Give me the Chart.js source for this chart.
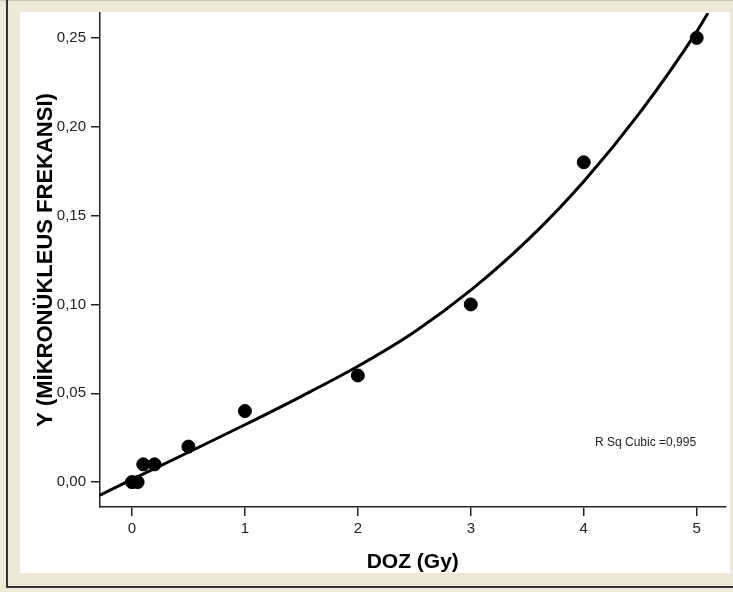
<!DOCTYPE html>
<html>
<head>
<meta charset="utf-8">
<script src="https://cdn.jsdelivr.net/npm/chart.js@4.4.1/dist/chart.umd.min.js"></script>
<style>
  html, body { margin: 0; padding: 0; background: #ECE9D8; }
  canvas { display: block; }
</style>
</head>
<body>
<canvas id="doz_chart" width="733" height="592"></canvas>
<script>
// observed points
const dozValues = [0, 0.05, 0.1, 0.2, 0.5, 1, 2, 3, 4, 5];
const frekansValues = [0, 0, 0.01, 0.01, 0.02, 0.04, 0.06, 0.10, 0.18, 0.25];

// cubic fit line
const fitDoz = [-0.283, 0, 0.5, 1, 1.5, 2, 2.5, 3, 3.5, 4, 4.5, 5, 5.1];
const fitFrekans = [-0.0073, 0.0015, 0.0168, 0.0323, 0.0483, 0.0652, 0.0845, 0.1080, 0.1360, 0.1692, 0.2082, 0.2535, 0.2640];

// ticks
const xTickValues = [0, 1, 2, 3, 4, 5];
const yTickValues = [0, 0.05, 0.10, 0.15, 0.20, 0.25];
const yTickLabels = ['0,00', '0,05', '0,10', '0,15', '0,20', '0,25'];

const rSqText = 'R Sq Cubic =0,995';

/*** FRAME + ANNOTATION ***/
const framePlugin = {
    id: 'frame',
    beforeDraw(chart) {
        const ctx = chart.ctx;
        ctx.save();
        ctx.fillStyle = '#ECE9D8';
        ctx.fillRect(0, 0, chart.width, chart.height);
        ctx.fillStyle = '#FFFFFF';
        ctx.fillRect(20, 12, 710, 561);
        ctx.strokeStyle = '#C8C5B4';
        ctx.lineWidth = 1;
        ctx.beginPath();
        ctx.moveTo(0, 0.5); ctx.lineTo(chart.width, 0.5);
        ctx.stroke();
        ctx.strokeStyle = '#333333';
        ctx.lineWidth = 2;
        ctx.beginPath();
        ctx.moveTo(7, 0); ctx.lineTo(7, 587);
        ctx.lineTo(chart.width, 587);
        ctx.stroke();
        ctx.restore();
    },
    afterDraw(chart) {
        const ctx = chart.ctx;
        ctx.save();
        ctx.font = '12px "Liberation Sans", Arial, sans-serif';
        ctx.fillStyle = '#222222';
        ctx.textAlign = 'left';
        ctx.textBaseline = 'middle';
        ctx.fillText(rSqText, 595, 443);
        ctx.restore();
    }
};

let ctx = document.getElementById('doz_chart').getContext('2d');

new Chart(ctx, {
    type: 'scatter',
    data: {
        datasets: [{
            label: 'Cubic',
            type: 'line',
            data: fitDoz.map((x, i) => ({x: x, y: fitFrekans[i]})),
            borderColor: '#000000',
            borderWidth: 3,
            pointRadius: 0,
            fill: false,
            cubicInterpolationMode: 'monotone'
        }, {
            label: 'Observed',
            data: dozValues.map((x, i) => ({x: x, y: frekansValues[i]})),
            backgroundColor: '#000000',
            borderColor: '#000000',
            pointRadius: 6.5,
            pointHoverRadius: 6.5
        }]
    },
    options: {
        responsive: false,
        animation: false,
        layout: {
            padding: {left: 0, top: 13, right: 5, bottom: 0}
        },
        plugins: {
            legend: {display: false},
            tooltip: {enabled: false}
        },
        scales: {
            x: {
                type: 'linear',
                min: -0.283,
                max: 5.255,
                afterBuildTicks: s => { s.ticks = xTickValues.map(v => ({value: v})); },
                afterFit: s => { s.height = 85; s.paddingLeft = 0; s.paddingRight = 0; },
                grid: {drawOnChartArea: false, drawTicks: true, tickLength: 9, color: '#222222', lineWidth: 1.5},
                border: {display: true, color: '#222222', width: 1.5},
                ticks: {
                    padding: 4,
                    color: '#222222',
                    font: {family: '"Liberation Sans", Arial, sans-serif', size: 15},
                    callback: v => String(v)
                },
                title: {
                    display: true,
                    text: 'DOZ (Gy)',
                    color: '#000000',
                    font: {family: '"Liberation Sans", Arial, sans-serif', size: 21, weight: 'bold', lineHeight: 1},
                    padding: {top: 0, bottom: 19}
                }
            },
            y: {
                type: 'linear',
                min: -0.014,
                max: 0.264,
                afterBuildTicks: s => { s.ticks = yTickValues.map(v => ({value: v})); },
                afterFit: s => { s.width = 100; s.paddingTop = 0; s.paddingBottom = 0; },
                grid: {drawOnChartArea: false, drawTicks: true, tickLength: 9, color: '#222222', lineWidth: 1.5},
                border: {display: true, color: '#222222', width: 1.5},
                ticks: {
                    padding: 5,
                    color: '#222222',
                    font: {family: '"Liberation Sans", Arial, sans-serif', size: 15},
                    callback: (v, i) => yTickLabels[i]
                },
                title: {
                    display: true,
                    text: 'Y (MİKRONÜKLEUS FREKANSI)',
                    color: '#000000',
                    font: {family: '"Liberation Sans", Arial, sans-serif', size: 22, weight: 'bold', lineHeight: 1},
                    padding: {top: 35, bottom: 0}
                }
            }
        }
    },
    plugins: [framePlugin]
});
</script>
</body>
</html>
